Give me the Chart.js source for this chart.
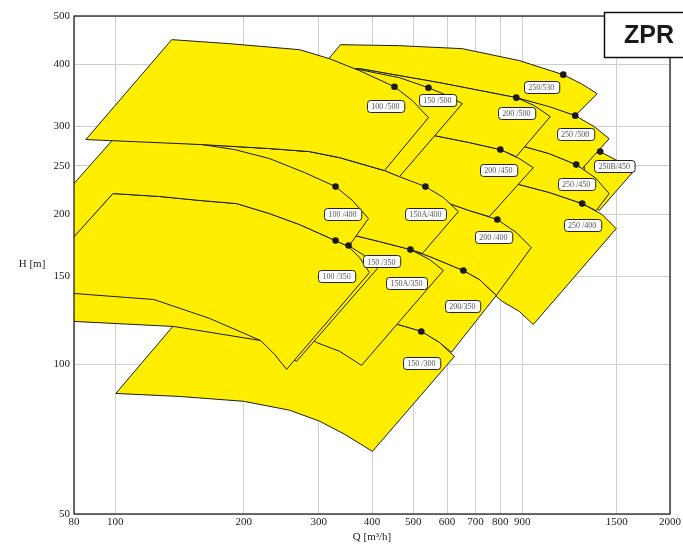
<!DOCTYPE html>
<html>
<head>
<meta charset="utf-8">
<script src="https://cdn.jsdelivr.net/npm/chart.js@4.4.0/dist/chart.umd.min.js"></script>
<style>
  html, body { margin: 0; padding: 0; background: #fff; }
  #wrap { width: 683px; height: 546px; }
</style>
</head>
<body>
<div id="wrap"><canvas id="pumpChart" width="683" height="546"></canvas></div>
<script>
// axis ticks
const xTicks = [80, 100, 200, 300, 400, 500, 600, 700, 800, 900, 1500, 2000];
const yTicks = [50, 100, 150, 200, 250, 300, 400, 500];

// pump fields, Q [m3/h] and H [m] outline vertices (back to front)
const q250_530 = [337.5, 464, 651.7, 886.2, 1123.6, 1238, 1349.7, 1198.7, 872.1, 575.6, 373.9, 293.3];
const h250_530 = [437.9, 435.9, 429.9, 406.8, 381.2, 365.7, 349.2, 315.4, 342.8, 367.4, 392.0, 379.4];

const q250B_450 = [1258.3, 1371.8, 1503.5, 1647.8, 1364.4, 1292.7, 1258.3];
const h250B_450 = [277.2, 267.1, 256.2, 244.7, 203.3, 213.0, 218.0];

const q250_400 = [753.8, 886.2, 1041.9, 1244.7, 1386.6, 1495.4, 955.7, 886.2, 808.5, 782.9, 733.7];
const h250_400 = [233.6, 229.3, 221.1, 210.0, 199.6, 187.1, 120.1, 127.6, 133.6, 136.7, 140.6];

const q250_450 = [848.7, 910.4, 1041.9, 1205.2, 1335.2, 1440, 1342.4, 1244.7, 1041.9, 886.2, 839.6];
const h250_450 = [278.5, 273.4, 264.6, 251.5, 236.8, 220.0, 203.3, 210.0, 221.1, 229.3, 233.6];

const q250_500 = [753.8, 872.1, 1041.9, 1198.7, 1328, 1440, 1244.7, 1205.2, 1041.9, 910.4, 817.3];
const h250_500 = [344.4, 342.8, 328.8, 315.4, 299.8, 283.6, 246.9, 251.5, 264.6, 273.4, 281.1];

const q200_350 = [459, 492.2, 545.5, 655.2, 714.3, 782.9, 614.1, 575.6, 522, 459, 405.4, 390.4];
const h200_350 = [169.1, 169.8, 164.5, 154.1, 147.9, 137.4, 105.6, 110.5, 116.3, 120.1, 123.5, 127.0];

const q150_300 = [100.3, 136.4, 270.5, 459, 522, 575.6, 624.2, 401, 344.9, 301.3, 256.3, 200, 141.6];
const h150_300 = [87.3, 119.0, 122.3, 120.1, 116.3, 110.5, 103.6, 66.8, 72.3, 76.8, 80.8, 84.2, 86.1];

const q200_400 = [545.5, 597.8, 676.8, 787.2, 872.1, 945.4, 782.9, 714.3, 655.2, 545.5, 492.2, 484.4];
const h200_400 = [216.0, 211.0, 203.3, 195.1, 183.7, 171.4, 137.4, 147.9, 154.1, 164.5, 169.8, 170.6];

const q200_450 = [531, 560.3, 676.8, 800, 886.2, 955.7, 753.8, 676.8, 597.8, 545.5, 451.6];
const h200_450 = [301.2, 287.6, 278.5, 269.6, 258.6, 248.0, 197.8, 203.3, 211.0, 216.0, 228.3];

const q200_500 = [318, 373.9, 575.6, 872.1, 960.9, 1047.5, 872.1, 800, 676.8, 560.3, 489.6];
const h200_500 = [388.3, 392.0, 367.4, 342.8, 330.4, 314.0, 261.0, 269.6, 278.5, 287.6, 294.3];

const q150A_350 = [206.6, 270.5, 364, 416.5, 492.2, 545.5, 588.2, 378, 335.7, 296.5, 256.3, 157.8];
const h150A_350 = [208.1, 196.0, 181.2, 176.2, 169.8, 162.2, 154.1, 99.4, 106.1, 110.5, 119.6, 160.0];

const q150A_400 = [159.5, 230.1, 285.5, 335.7, 427.9, 464, 533.8, 588.2, 637.8, 525.2, 492.2, 416.5, 364, 270.5, 206.6];
const h150A_400 = [275.9, 270.9, 267.1, 259.8, 244.7, 237.9, 227.2, 216.0, 202.4, 166.8, 169.8, 176.2, 181.2, 194.2, 208.1];

const q150_350 = [70.3, 120.4, 206.6, 270.5, 335.7, 352.4, 384.1, 412, 266.2, 242.8, 219.2, 137.1, 80, 70.3];
const h150_350 = [169.1, 181.2, 182.8, 178.7, 173.8, 173.0, 165.2, 155.6, 101.3, 105.6, 111.5, 119.0, 121.8, 122.3];

const q100_350 = [98.7, 127.1, 158.6, 192.6, 230.1, 270.5, 328.5, 352.4, 373.9, 394.6, 252.2, 236.4, 219.2, 166.5, 123.1, 80, 70.3, 70.3];
const h100_350 = [220.0, 217.0, 213.0, 210.0, 200.5, 190.6, 177.0, 172.2, 163.7, 152.7, 97.6, 104.6, 111.5, 123.5, 134.8, 138.6, 139.3, 160.0];

const q100_400 = [98.7, 127.1, 159.5, 190.5, 230.1, 277.9, 328.5, 360, 392.5, 352.4, 328.5, 270.5, 230.1, 192.6, 158.6, 127.1, 98.7, 70.3, 70.3];
const h100_400 = [282.4, 279.8, 275.9, 269.6, 258.6, 242.4, 227.2, 213.0, 196.0, 172.2, 177.0, 190.6, 200.5, 210.0, 213.0, 217.0, 220.0, 159.2, 203.3];

const q150_500 = [230.1, 270.5, 373.9, 464, 542.6, 601.1, 651.7, 464, 427.9, 335.7, 285.5, 230.1, 195.7];
const h150_500 = [406.8, 401.1, 390.2, 375.9, 358.9, 346.0, 333.4, 237.9, 244.7, 259.8, 267.1, 270.9, 273.4];

const q100_500 = [85.3, 135.6, 185.4, 270.5, 318, 373.9, 451.6, 497.6, 542.6, 427.9, 335.7, 285.5, 230.1, 159.5];
const h100_500 = [282.4, 448.2, 439.9, 427.9, 410.4, 388.3, 360.6, 338.1, 312.5, 244.7, 259.8, 267.1, 270.9, 275.9];

// best efficiency points
const bepQ = [451.6, 542.6, 1123.6, 872.1, 1198.7, 800, 1205.2, 1371.8, 328.5, 533.8, 787.2, 1244.7, 328.5, 352.4, 492.2, 655.2, 522];
const bepH = [360.6, 358.9, 381.2, 342.8, 315.4, 269.6, 251.5, 267.1, 227.2, 227.2, 195.1, 210.0, 177.0, 173.0, 169.8, 154.1, 116.3];

// pump size labels
const labelText = ['100 /500', '150 /500', '250/530', '200 /500', '250 /500', '200 /450', '250 /450', '250B/450',
  '100 /400', '150A/400', '200 /400', '250 /400', '100 /350', '150 /350', '150A/350', '200/350', '150 /300'];
const labelQ = [430.2, 569.5, 997.8, 872.1, 1198.7, 791.4, 1205.2, 1479.3, 341.1, 533.8, 770.3, 1244.7, 330.3, 421.0, 481.8, 651.7, 522];
const labelH = [330.4, 339.7, 360.6, 319.8, 290.2, 245.8, 230.4, 250.3, 200.5, 200.5, 180.3, 190.6, 150.6, 160.7, 145.8, 130.6, 100.4];

const fields = [
  [q250_530, h250_530], [q250B_450, h250B_450], [q250_400, h250_400], [q250_450, h250_450],
  [q250_500, h250_500], [q200_350, h200_350], [q150_300, h150_300], [q200_400, h200_400],
  [q200_450, h200_450], [q200_500, h200_500], [q150A_350, h150A_350], [q150A_400, h150A_400],
  [q150_350, h150_350], [q100_350, h100_350], [q100_400, h100_400], [q150_500, h150_500],
  [q100_500, h100_500]
];

const yellow = '#ffee00';

function roundBox(ctx, x, y, w, h, r) {
  ctx.beginPath();
  ctx.moveTo(x + r, y);
  ctx.arcTo(x + w, y, x + w, y + h, r);
  ctx.arcTo(x + w, y + h, x, y + h, r);
  ctx.arcTo(x, y + h, x, y, r);
  ctx.arcTo(x, y, x + w, y, r);
  ctx.closePath();
}

const decor = {
  id: 'decor',
  afterDatasetsDraw(chart) {
    const {ctx, chartArea: a, scales} = chart;
    ctx.save();
    ctx.strokeStyle = '#111';
    ctx.lineWidth = 1.2;
    ctx.strokeRect(a.left, a.top, a.right - a.left, a.bottom - a.top);

    ctx.font = '8px "Liberation Serif", serif';
    ctx.textAlign = 'center';
    ctx.textBaseline = 'middle';
    labelText.forEach((t, i) => {
      const x = scales.x.getPixelForValue(labelQ[i]);
      const y = scales.y.getPixelForValue(labelH[i]);
      const w = ctx.measureText(t).width + 9;
      const h = 12;
      roundBox(ctx, Math.round(x - w / 2) + 0.5, Math.round(y - h / 2) + 0.5, w, h, 3);
      ctx.fillStyle = '#fff';
      ctx.fill();
      ctx.strokeStyle = '#222';
      ctx.lineWidth = 1;
      ctx.stroke();
      ctx.fillStyle = '#555';
      ctx.fillText(t, x, y + 1);
    });
    ctx.restore();
  },
  afterDraw(chart) {
    const {ctx} = chart;
    ctx.save();
    ctx.fillStyle = '#222';
    ctx.font = '11px "Liberation Serif", serif';
    ctx.textAlign = 'center';
    ctx.textBaseline = 'middle';
    ctx.fillText('H [m]', 32, 264);
    ctx.fillText('Q [m\u00b3/h]', 372, 537);

    // ZPR badge
    ctx.fillStyle = '#fff';
    ctx.fillRect(604, 12, 90, 45);
    ctx.strokeStyle = '#111';
    ctx.lineWidth = 1.5;
    ctx.strokeRect(604.5, 12.5, 90, 45);
    ctx.fillStyle = '#1a1a1a';
    ctx.font = 'bold 25px "Liberation Sans", Arial, sans-serif';
    ctx.fillText('ZPR', 649, 36);
    ctx.restore();
  }
};

const datasets = fields.map((f, i) => ({
  data: f[0].map((q, k) => ({x: q, y: f[1][k]})).concat([{x: f[0][0], y: f[1][0]}]),
  showLine: true,
  fill: 'shape',
  backgroundColor: yellow,
  borderColor: '#1c1c1c',
  borderWidth: 1,
  borderJoinStyle: 'round',
  pointRadius: 0,
  tension: 0,
  order: fields.length - i + 1
}));

datasets.push({
  data: bepQ.map((q, k) => ({x: q, y: bepH[k]})),
  showLine: false,
  pointRadius: 3.3,
  pointBackgroundColor: '#1a1a1a',
  pointBorderWidth: 0,
  order: 0
});

const tickFont = {family: '"Liberation Serif", serif', size: 11};

new Chart(document.getElementById('pumpChart').getContext('2d'), {
  type: 'scatter',
  data: {datasets: datasets},
  plugins: [decor],
  options: {
    responsive: false,
    animation: false,
    layout: {padding: {top: 16, right: 12, left: 0, bottom: 0}},
    plugins: {legend: {display: false}, tooltip: {enabled: false}},
    scales: {
      x: {
        type: 'logarithmic',
        min: 80,
        max: 2000,
        afterBuildTicks: s => { s.ticks = xTicks.map(v => ({value: v})); },
        afterFit: s => { s.height = 32; },
        border: {display: false},
        grid: {color: '#cfcfcf', lineWidth: 1, drawTicks: false},
        ticks: {padding: 2, font: tickFont, color: '#222', maxRotation: 0, autoSkip: false, callback: v => String(v)}
      },
      y: {
        type: 'logarithmic',
        min: 50,
        max: 500,
        afterBuildTicks: s => { s.ticks = yTicks.map(v => ({value: v})); },
        afterFit: s => { s.width = 74; },
        border: {display: false},
        grid: {color: '#cfcfcf', lineWidth: 1, drawTicks: false},
        ticks: {padding: 4, font: tickFont, color: '#222', autoSkip: false, callback: v => String(v)}
      }
    }
  }
});
</script>
</body>
</html>
